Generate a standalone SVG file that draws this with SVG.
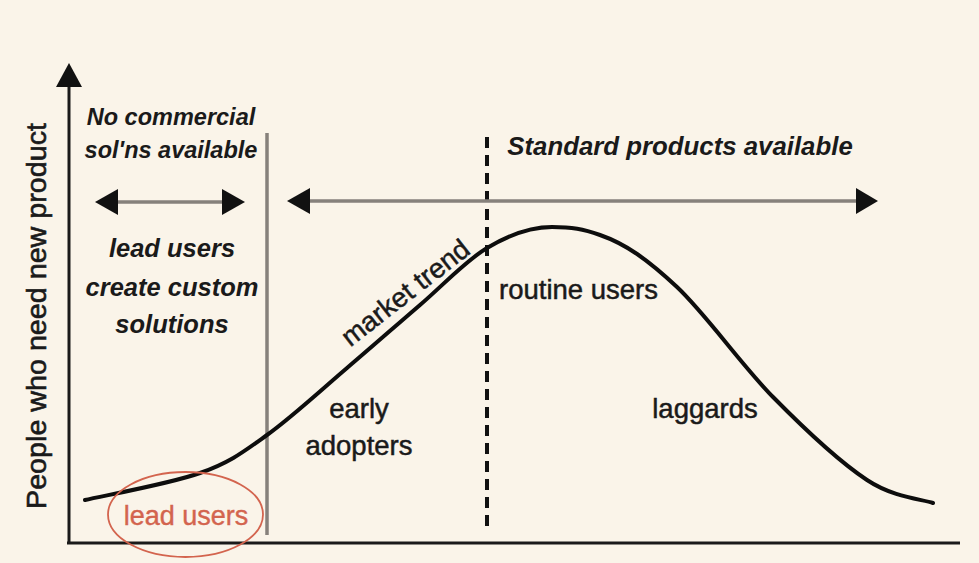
<svg xmlns="http://www.w3.org/2000/svg" width="979" height="563" viewBox="0 0 979 563">
  <style>
    .lbl { font-family: "Liberation Sans", Arial, sans-serif; fill: #1a1a1a; }
    .it { font-style: italic; font-weight: bold; }
    .reg { font-size: 27.5px; stroke: #1a1a1a; stroke-width: 0.5; }
    .axis { stroke: #1a1a1a; stroke-width: 3; fill: none; }
    .gray { stroke: #86817b; stroke-width: 3.5; fill: none; }
    .head { fill: #111; }
  </style>
  <rect width="979" height="563" fill="#FAF4E9"/>

  <g id="axes">
    <line class="axis" x1="69" y1="543" x2="69" y2="85"/>
    <polygon class="head" points="69,63 56,87 82,87"/>
    <line class="axis" x1="67" y1="543" x2="960" y2="543"/>
    <text class="lbl" font-size="28" stroke="#1a1a1a" stroke-width="0.6" text-anchor="middle" transform="translate(46,316) rotate(-90)" textLength="386" lengthAdjust="spacingAndGlyphs">People who need new product</text>
  </g>

  <g id="connectors">
    <line class="gray" x1="267" y1="133" x2="267" y2="535"/>
    <line x1="487" y1="137" x2="487" y2="532" stroke="#111" stroke-width="4" stroke-dasharray="11 7"/>
    <line class="gray" x1="112" y1="202" x2="228" y2="202"/>
    <polygon class="head" points="95,202 118,189 118,215"/>
    <polygon class="head" points="245,202 222,189 222,215"/>
    <line class="gray" x1="305" y1="201" x2="862" y2="201"/>
    <polygon class="head" points="287,201 310,188 310,214"/>
    <polygon class="head" points="878,201 856,188 856,214"/>
    <path d="M85,500 C104.2,495.5 169.7,483.8 200,473 C230.3,462.2 242.5,452.5 267,435 C291.5,417.5 321.5,389.7 347,368 C372.5,346.3 396.7,325 420,305 C443.3,285 465.3,261 487,248 C508.7,235 532,227 552,227 C572,227 583,229 600,235 C626,244 648.2,260 677,287 C705.8,314 741.3,364.8 773,397 C804.7,429.2 840.3,462.3 867,480 C893.7,497.7 922,499.2 933,503" fill="none" stroke="#0d0d0d" stroke-width="4" stroke-linecap="round"/>
  </g>

  <g id="no-commercial">
    <text class="lbl it" font-size="23.5" x="171" y="125" text-anchor="middle">No commercial</text>
    <text class="lbl it" font-size="23.5" x="171" y="158" text-anchor="middle">sol'ns available</text>
  </g>

  <g id="custom-solutions">
    <text class="lbl it" font-size="25.5" x="172" y="257" text-anchor="middle">lead users</text>
    <text class="lbl it" font-size="25.5" x="172" y="296" text-anchor="middle">create custom</text>
    <text class="lbl it" font-size="25.5" x="172" y="333" text-anchor="middle">solutions</text>
  </g>

  <g id="standard-products">
    <text class="lbl it" font-size="25.8" x="680" y="155" text-anchor="middle">Standard products available</text>
  </g>

  <g id="market-trend">
    <text class="lbl reg" text-anchor="middle" transform="translate(411,300) rotate(-38)">market trend</text>
  </g>

  <g id="routine-users">
    <text class="lbl reg" x="499" y="299">routine users</text>
  </g>

  <g id="early-adopters">
    <text class="lbl reg" x="359" y="418" text-anchor="middle">early</text>
    <text class="lbl reg" x="359" y="455" text-anchor="middle">adopters</text>
  </g>

  <g id="laggards">
    <text class="lbl reg" x="705" y="418" text-anchor="middle">laggards</text>
  </g>

  <g id="lead-users">
    <ellipse cx="185.5" cy="514.5" rx="77.5" ry="42.5" fill="none" stroke="#D3644E" stroke-width="1.8"/>
    <text font-family="'Liberation Sans', Arial, sans-serif" font-size="27" fill="#D3644E" stroke="#D3644E" stroke-width="0.4" x="186" y="525" text-anchor="middle">lead users</text>
  </g>
</svg>
